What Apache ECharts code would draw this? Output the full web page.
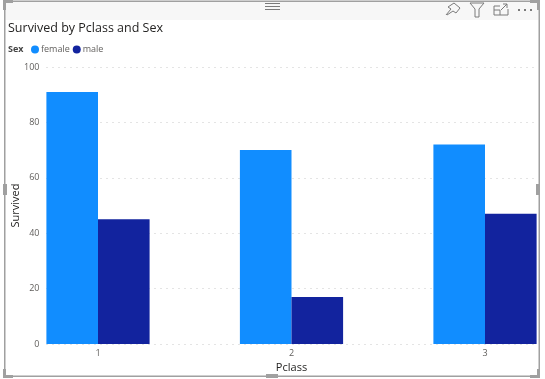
<!DOCTYPE html>
<html><head><meta charset="utf-8">
<style>html,body{margin:0;padding:0;background:#fff}#c{width:545px;height:379px}</style>
<script src="https://cdn.jsdelivr.net/npm/echarts@6/dist/echarts.min.js"></script>
</head><body><div id="c"></div>
<script>
const classes = ['1', '2', '3'];
const female = [91, 70, 72];
const male = [45, 17, 47];
const font = '"Open Sans","Noto Sans",sans-serif';
const gray = '#a0a0a0', icon = '#7a7a7a';
const rect = (x, y, w, h, fill) => ({type:'rect', silent:true, z:10, shape:{x, y, width:w, height:h}, style:{fill}});
const line = (pts) => ({type:'polyline', silent:true, z:10, shape:{points:pts}, style:{fill:null, stroke:icon, lineWidth:1}});
const chart = echarts.init(document.getElementById('c'), null, {renderer:'canvas'});
chart.setOption({
  animation:false,
  backgroundColor:'#fff',
  title:{text:'Survived by Pclass and Sex', left:8, top:22, padding:0,
    textStyle:{fontFamily:font, fontSize:12.5, fontWeight:'normal', color:'#252423'}},
  legend:{left:31, top:45, padding:0, icon:'circle', itemWidth:8, itemHeight:8, itemGap:3,
    textStyle:{fontFamily:font, fontSize:9, color:'#605E5C', padding:[0,0,0,-3]},
    data:['female','male']},
  grid:[
    {left:46.5, width:489.5, top:67, height:277, outerBoundsMode:'none'},
    {left:1.25, width:580.5, top:67, height:277, outerBoundsMode:'none'}
  ],
  xAxis:[
    {gridIndex:0, type:'category', data:classes, show:false},
    {gridIndex:1, type:'category', data:classes, name:'Pclass', nameLocation:'middle', nameGap:18, nameMoveOverlap:false,
      nameTextStyle:{fontFamily:font, fontSize:11, color:'#252423'},
      axisLine:{show:false}, axisTick:{show:false}, splitLine:{show:false},
      axisLabel:{fontFamily:font, fontSize:9, color:'#605E5C', margin:5}}
  ],
  yAxis:[
    {gridIndex:0, type:'value', min:0, max:100, interval:20, name:'Survived', nameLocation:'middle', nameGap:25, nameMoveOverlap:false,
      nameTextStyle:{fontFamily:font, fontSize:11, color:'#252423'},
      axisLine:{show:false}, axisTick:{show:false},
      axisLabel:{fontFamily:font, fontSize:9, color:'#605E5C', margin:7},
      splitLine:{show:true, lineStyle:{type:[1,5], color:'#c8c8c8', width:1}}},
    {gridIndex:1, type:'value', min:0, max:100, interval:20, show:false, splitLine:{show:false}}
  ],
  series:[
    {name:'female', type:'bar', xAxisIndex:1, yAxisIndex:1, barWidth:51.6, barGap:'0%', itemStyle:{color:'#118DFF'}, data:female},
    {name:'male', type:'bar', xAxisIndex:1, yAxisIndex:1, barWidth:51.6, barGap:'0%', itemStyle:{color:'#12239E'}, data:male}
  ],
  graphic:[
    {...rect(5, 1, 534, 19, '#f7f7f7'), z:0},
    {type:'text', left:8, top:45, silent:true, style:{text:'Sex', fontFamily:font, fontSize:9, fontWeight:'bold', fill:'#444'}},
    rect(4, 1, 1.5, 375, gray), rect(4, 0.5, 535, 1.5, gray), rect(538.5, 1, 1.5, 375, gray), rect(4, 375.5, 535, 1.5, gray),
    rect(3, 0, 10, 3, gray), rect(3, 0, 3, 10, gray),
    rect(3, 369, 3, 9, gray), rect(3, 375, 10, 3, gray),
    rect(530, 375, 10, 3, gray), rect(537, 369, 3, 9, gray),
    rect(530, 0, 10, 3, gray), rect(537, 0, 3, 10, gray),
    rect(3, 184, 4, 11, gray), rect(536, 184, 4, 11, gray),
    rect(266, 374, 12, 4, gray),
    rect(265, 3, 15, 1, icon), rect(265, 6, 15, 1, icon), rect(265, 9, 15, 1, icon),
    line([[446,15],[451,9],[448,7],[454,3],[460,8],[456,13],[453,11],[447,15]]),
    line([[470,3],[484,3],[479,9],[479,17],[475,17],[475,9],[470,3]]),
    line([[500,6],[494,6],[494,15],[508,15],[508,9]]),
    line([[494,10],[500,10],[500,15]]),
    line([[501,10],[507,4]]), line([[503,4],[507,4],[507,8]]),
    rect(518, 9, 2, 2, icon), rect(524, 9, 2, 2, icon), rect(530, 9, 2, 2, icon)
  ]
});
</script></body></html>
